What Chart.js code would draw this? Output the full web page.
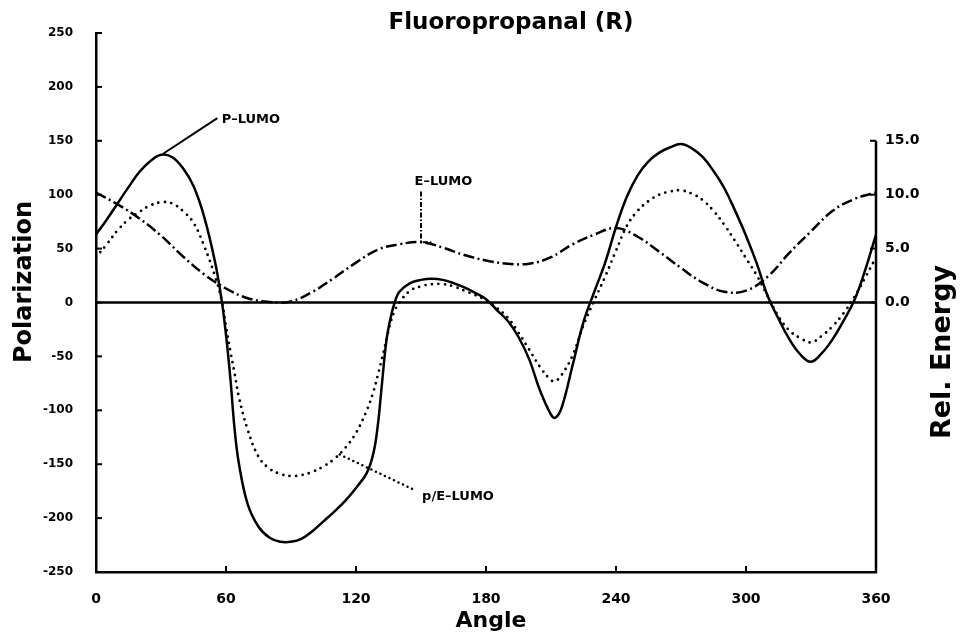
<!DOCTYPE html>
<html>
<head>
<meta charset="utf-8">
<script src="https://cdn.jsdelivr.net/npm/chart.js@4.4.1/dist/chart.umd.min.js"></script>
<style>
  html, body { margin: 0; padding: 0; background: #fff; }
  #wrap { width: 960px; height: 636px; position: relative; }
</style>
</head>
<body>
<div id="wrap"><canvas id="graficoPolarizacion"></canvas></div>
<script>
// Datos
const angulos = [0, 5, 10, 15, 20, 25, 30, 35, 40, 45, 50, 55, 58, 60, 62, 64, 66, 70, 75, 80, 85, 90,
  95, 100, 105, 110, 115, 120, 125, 128, 130, 132, 134, 136, 138, 140, 145, 150, 155, 160, 165, 170,
  175, 180, 185, 190, 195, 200, 205, 210, 212, 215, 220, 225, 230, 235, 240, 245, 250, 255, 260, 265,
  270, 275, 280, 285, 290, 295, 300, 305, 310, 315, 320, 325, 330, 335, 340, 345, 350, 355, 360];
const pLumo = [63, 77, 92, 107, 121, 131, 137, 135, 125, 108, 79, 37, 2, -30, -70, -118, -150, -187, -208, -218, -222, -222,
  -219, -212, -203, -194, -184, -172, -158, -140, -115, -75, -36, -14, 1, 10, 18, 21, 22, 21, 18, 14,
  9, 3, -7, -17, -32, -53, -82, -104, -107, -97, -58, -18, 10, 37, 70, 98, 118, 131, 139, 144,
  147, 143, 135, 122, 106, 85, 62, 36, 6, -15, -34, -48, -55, -47, -34, -17, 2, 30, 63];
const peLumo = [42, 54, 67, 77, 84, 90, 93, 92, 85, 74, 52, 24, 2, -22, -45, -66, -88, -118, -143, -154, -159, -161,
  -160, -157, -152, -145, -135, -121, -100, -83, -68, -52, -35, -18, -7, 0, 11, 15, 17, 17, 15, 11,
  7, 2, -5, -14, -28, -44, -60, -72, -73, -67, -49, -21, 2, 24, 48, 71, 85, 94, 100, 103,
  104, 101, 95, 85, 72, 57, 41, 25, 6, -13, -26, -33, -37, -31, -22, -10, 5, 23, 42];
const angulosEnergia = [0, 10, 20, 30, 40, 50, 60, 70, 80, 90, 100, 110, 120, 130, 140, 150, 160, 170, 180,
  190, 200, 210, 220, 230, 240, 250, 260, 270, 280, 290, 300, 310, 320, 330, 340, 350, 360];
const eLumo = [10.2, 9.1, 7.8, 6.2, 4.3, 2.6, 1.3, 0.4, 0.05, 0.1, 1.0, 2.3, 3.7, 4.9, 5.4, 5.6, 5.1, 4.4, 3.9,
  3.6, 3.6, 4.2, 5.4, 6.3, 6.9, 6.1, 4.7, 3.2, 1.85, 1.0, 1.1, 2.4, 4.6, 6.6, 8.5, 9.6, 10.2];
const ticksAngulo = [0, 60, 120, 180, 240, 300, 360];
const ticksPolarizacion = [-250, -200, -150, -100, -50, 0, 50, 100, 150, 200, 250];
const ticksEnergia = [0, 5, 10, 15];

const FUENTE = '"DejaVu Sans", sans-serif';

const aPuntos = (xs, ys) => xs.map((x, i) => ({ x: x, y: ys[i] }));

// Dibuja título, nombres de ejes, marcas y etiquetas de las curvas
const extras = {
  id: 'extras',
  beforeDatasetsDraw(chart) {
    const { ctx, chartArea: a, scales } = chart;
    const x = scales.x, y = scales.y, y2 = scales.y2;
    const linea = (x1, y1, x2, y2_) => { ctx.beginPath(); ctx.moveTo(x1, y1); ctx.lineTo(x2, y2_); ctx.stroke(); };
    ctx.save();
    ctx.strokeStyle = '#000';
    ctx.lineWidth = 2.5;
    const y0 = y.getPixelForValue(0);
    linea(a.left, y0, a.right, y0);
    linea(a.right, y2.getPixelForValue(15), a.right, a.bottom + 1);
    ctx.lineWidth = 2;
    ticksPolarizacion.forEach(v => { const p = y.getPixelForValue(v); linea(a.left, p, a.left + 6, p); });
    ticksAngulo.forEach(v => { const p = x.getPixelForValue(v); linea(p, a.bottom, p, a.bottom - 6); });
    ticksEnergia.forEach(v => { const p = y2.getPixelForValue(v); linea(a.right, p, a.right - 6, p); });
    ctx.restore();
  },
  afterDraw(chart) {
    const { ctx, scales } = chart;
    const x = scales.x, y = scales.y;
    const px = v => x.getPixelForValue(v), py = v => y.getPixelForValue(v);
    ctx.save();
    ctx.fillStyle = '#000';
    ctx.strokeStyle = '#000';

    ctx.font = 'bold 23px ' + FUENTE;
    ctx.textAlign = 'center';
    ctx.textBaseline = 'middle';
    ctx.fillText('Fluoropropanal (R)', 511, 23);

    ctx.font = 'bold 22px ' + FUENTE;
    ctx.fillText('Angle', 491, 621);

    ctx.font = 'bold 24px ' + FUENTE;
    ctx.save();
    ctx.translate(25, 282);
    ctx.rotate(-Math.PI / 2);
    ctx.fillText('Polarization', 0, 0);
    ctx.restore();
    ctx.font = 'bold 27px ' + FUENTE;
    ctx.save();
    ctx.translate(943, 352);
    ctx.rotate(-Math.PI / 2);
    ctx.fillText('Rel. Energy', 0, 0);
    ctx.restore();

    // etiquetas de curvas
    ctx.font = 'bold 13px ' + FUENTE;
    ctx.textAlign = 'left';
    ctx.lineWidth = 2;
    ctx.beginPath(); ctx.moveTo(px(31), py(138)); ctx.lineTo(px(56), py(171)); ctx.stroke();
    ctx.fillText('P\u2013LUMO', px(58), py(170));

    ctx.setLineDash([5, 2, 1.5, 2]);
    ctx.beginPath(); ctx.moveTo(px(150), py(103)); ctx.lineTo(px(150), py(56)); ctx.lineTo(px(155), py(56)); ctx.stroke();
    ctx.fillText('E\u2013LUMO', px(147), py(112));

    ctx.setLineDash([0, 5]);
    ctx.lineCap = 'round';
    ctx.lineWidth = 2.5;
    ctx.beginPath(); ctx.moveTo(px(112.5), py(-141)); ctx.lineTo(px(146), py(-173)); ctx.stroke();
    ctx.fillText('p/E\u2013LUMO', px(150.5), py(-180));
    ctx.restore();
  }
};

const ctx = document.getElementById('graficoPolarizacion');
Chart.defaults.font.family = FUENTE;
Chart.defaults.font.weight = 'bold';
Chart.defaults.color = '#000';

new Chart(ctx, {
  type: 'line',
  data: {
    datasets: [{
      label: 'P-LUMO',
      data: aPuntos(angulos, pLumo),
      yAxisID: 'y',
      borderColor: '#000',
      borderWidth: 2.5,
      tension: 0.4,
      pointRadius: 0
    }, {
      label: 'p/E-LUMO',
      data: aPuntos(angulos, peLumo),
      yAxisID: 'y',
      borderColor: '#000',
      borderWidth: 2.8,
      borderDash: [0, 6.5],
      borderCapStyle: 'round',
      tension: 0.4,
      pointRadius: 0
    }, {
      label: 'E-LUMO',
      data: aPuntos(angulosEnergia, eLumo),
      yAxisID: 'y2',
      borderColor: '#000',
      borderWidth: 2.5,
      borderDash: [11, 3.5, 2, 3.5],
      tension: 0.4,
      pointRadius: 0
    }]
  },
  options: {
    responsive: true,
    maintainAspectRatio: false,
    animation: false,
    layout: { padding: { top: 33, left: 0, right: 0, bottom: 0 } },
    plugins: { legend: { display: false }, tooltip: { enabled: false } },
    scales: {
      x: {
        type: 'linear',
        min: 0, max: 360,
        afterBuildTicks: s => { s.ticks = ticksAngulo.map(v => ({ value: v })); },
        afterFit: s => { s.height = 64; },
        grid: { display: false },
        border: { display: true, color: '#000', width: 2.5 },
        ticks: { padding: 11, font: { size: 14, weight: 'bold' }, maxRotation: 0 }
      },
      y: {
        position: 'left',
        min: -250, max: 250,
        afterBuildTicks: s => { s.ticks = ticksPolarizacion.map(v => ({ value: v })); },
        afterFit: s => { s.width = 96; },
        grid: { display: false },
        border: { display: true, color: '#000', width: 2.5 },
        ticks: { padding: 15, font: { size: 12, weight: 'bold' } }
      },
      y2: {
        position: 'right',
        min: -25, max: 25,
        afterBuildTicks: s => { s.ticks = ticksEnergia.map(v => ({ value: v })); },
        afterFit: s => { s.width = 84; },
        grid: { display: false },
        border: { display: false },
        ticks: { padding: 1, font: { size: 14, weight: 'bold' }, callback: v => v.toFixed(1) }
      }
    }
  },
  plugins: [extras]
});
</script>
</body>
</html>
